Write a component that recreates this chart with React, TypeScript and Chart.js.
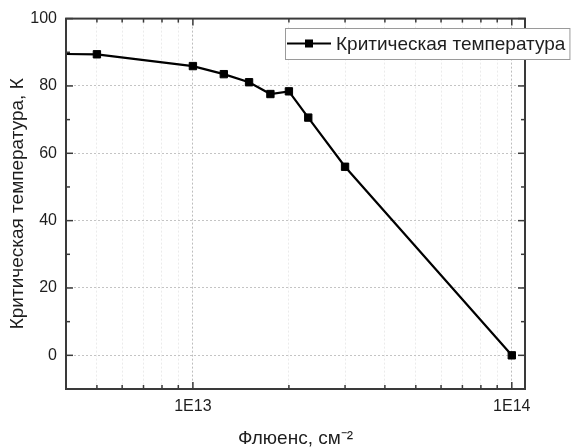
import React, { useEffect, useRef } from 'react';
import { Chart, registerables } from 'chart.js';

Chart.register(...registerables);

// ---- data ----
const fluence = [3e12, 5e12, 1e13, 1.25e13, 1.5e13, 1.75e13, 2e13, 2.3e13, 3e13, 1e14];
const criticalTemp = [89.6, 89.4, 85.9, 83.5, 81.1, 77.6, 78.4, 70.6, 56.0, 0];
const seriesLabel = 'Критическая температура';

const xMajorTicks = [1e13, 1e14];
const xTickLabels = ['1E13', '1E14'];
const xMinorTicks = [5e12, 6e12, 7e12, 8e12, 9e12, 2e13, 3e13, 4e13, 5e13, 6e13, 7e13, 8e13, 9e13];
const yMajorTicks = [0, 20, 40, 60, 80, 100];
const yTickLabels = ['0', '20', '40', '60', '80', '100'];
const yMinorTicks = [10, 30, 50, 70, 90];

const xTitle = 'Флюенс, см⁻²';
const yTitle = 'Критическая температура, К';

const xMin = 4e12;
const xMax = 1.1e14;
const yMin = -10;
const yMax = 100;

const FONT = "'Liberation Sans', Arial, sans-serif";
const TEXT = '#1e1e1e';
const AXIS = '#3a3a3a';

const framePlugin = {
  id: 'frameTicks',
  afterDraw(chart: any) {
    const { ctx, chartArea: a, scales } = chart;
    const xs = scales.x;
    const ys = scales.y;
    ctx.save();
    ctx.strokeStyle = AXIS;
    ctx.lineWidth = 1.5;
    const tick = (x1: number, y1: number, x2: number, y2: number) => {
      ctx.beginPath();
      ctx.moveTo(x1, y1);
      ctx.lineTo(x2, y2);
      ctx.stroke();
    };
    xMajorTicks.forEach((v) => {
      const x = xs.getPixelForValue(v);
      tick(x, a.bottom, x, a.bottom - 7);
      tick(x, a.top, x, a.top + 7);
    });
    xMinorTicks.forEach((v) => {
      const x = xs.getPixelForValue(v);
      tick(x, a.bottom, x, a.bottom - 4);
      tick(x, a.top, x, a.top + 4);
    });
    yMajorTicks.forEach((v) => {
      const y = ys.getPixelForValue(v);
      tick(a.left, y, a.left + 7, y);
      tick(a.right, y, a.right - 7, y);
    });
    yMinorTicks.forEach((v) => {
      const y = ys.getPixelForValue(v);
      tick(a.left, y, a.left + 4, y);
      tick(a.right, y, a.right - 4, y);
    });
    ctx.lineWidth = 2;
    ctx.strokeRect(a.left, a.top, a.right - a.left, a.bottom - a.top);

    // legend
    const ds = chart.data.datasets[0];
    ctx.font = `19px ${FONT}`;
    const textX = 336;
    const tw = ctx.measureText(ds.label).width;
    const bx = 285;
    const by = 28;
    const bw = textX + tw + 4 - bx;
    const bh = 31;
    ctx.fillStyle = '#ffffff';
    ctx.fillRect(bx, by, bw, bh);
    ctx.strokeStyle = '#9a9a9a';
    ctx.lineWidth = 1;
    ctx.strokeRect(bx + 0.5, by + 0.5, bw, bh);
    const cy = by + bh / 2;
    ctx.strokeStyle = '#000';
    ctx.lineWidth = 2;
    tick(bx + 2, cy, bx + 46, cy);
    ctx.fillStyle = '#000';
    ctx.fillRect(bx + 24 - 4, cy - 4, 8, 8);
    ctx.fillStyle = TEXT;
    ctx.textBaseline = 'middle';
    ctx.textAlign = 'left';
    ctx.fillText(ds.label, textX, cy + 1);
    ctx.restore();
  },
};

export default function App() {
  const ref = useRef<HTMLCanvasElement>(null);
  useEffect(() => {
    if (!ref.current) return;
    const chart = new Chart(ref.current, {
      type: 'line',
      data: {
        datasets: [
          {
            label: seriesLabel,
            data: fluence.map((x, i) => ({ x, y: criticalTemp[i] })),
            borderColor: '#000',
            backgroundColor: '#000',
            borderWidth: 2.2,
            pointStyle: 'rect',
            pointRadius: 5.2,
            pointBorderWidth: 1,
            pointBackgroundColor: '#000',
            pointBorderColor: '#000',
            tension: 0,
            clip: 0,
          },
        ],
      },
      options: {
        responsive: false,
        animation: false,
        layout: { padding: { left: 0, right: 47, top: 17, bottom: 0 } },
        plugins: {
          legend: { display: false },
          tooltip: { enabled: false },
        },
        scales: {
          x: {
            type: 'logarithmic',
            min: xMin,
            max: xMax,
            afterBuildTicks: (scale: any) => {
              scale.ticks = [...xMinorTicks, ...xMajorTicks]
                .sort((a, b) => a - b)
                .map((v) => ({ value: v }));
            },
            afterFit: (scale: any) => {
              scale.height = 59;
            },
            ticks: {
              autoSkip: false,
              maxRotation: 0,
              padding: 8,
              color: TEXT,
              font: { family: FONT, size: 16 },
              callback: (value: any) => {
                const idx = xMajorTicks.indexOf(Number(value));
                return idx >= 0 ? xTickLabels[idx] : '';
              },
            },
            grid: {
              drawTicks: false,
              lineWidth: 1,
              color: (ctx: any) =>
                ctx.tick && xMajorTicks.includes(ctx.tick.value) ? '#bdbdbd' : '#ebebeb',
            },
            border: { display: false, dash: [2, 2] },
            title: {
              display: true,
              text: xTitle,
              color: TEXT,
              font: { family: FONT, size: 19 },
              padding: { top: 0, bottom: -2 },
            },
          },
          y: {
            type: 'linear',
            min: yMin,
            max: yMax,
            afterBuildTicks: (scale: any) => {
              scale.ticks = yMajorTicks.map((v) => ({ value: v }));
            },
            afterFit: (scale: any) => {
              scale.width = 66;
            },
            ticks: {
              padding: 9,
              color: TEXT,
              font: { family: FONT, size: 16 },
              callback: (value: any) => {
                const idx = yMajorTicks.indexOf(Number(value));
                return idx >= 0 ? yTickLabels[idx] : '';
              },
            },
            grid: {
              drawTicks: false,
              lineWidth: 1,
              color: '#c4c4c4',
            },
            border: { display: false, dash: [2, 2] },
            title: {
              display: true,
              text: yTitle,
              color: TEXT,
              font: { family: FONT, size: 19 },
              padding: { top: 6.6, bottom: 0 },
            },
          },
        },
      },
      plugins: [framePlugin],
    } as any);
    return () => chart.destroy();
  }, []);

  return (
    <div style={{ position: 'absolute', left: 0, top: 0, width: 572, height: 448, background: '#fff' }}>
      <canvas ref={ref} width={572} height={448} style={{ display: 'block' }} />
    </div>
  );
}
